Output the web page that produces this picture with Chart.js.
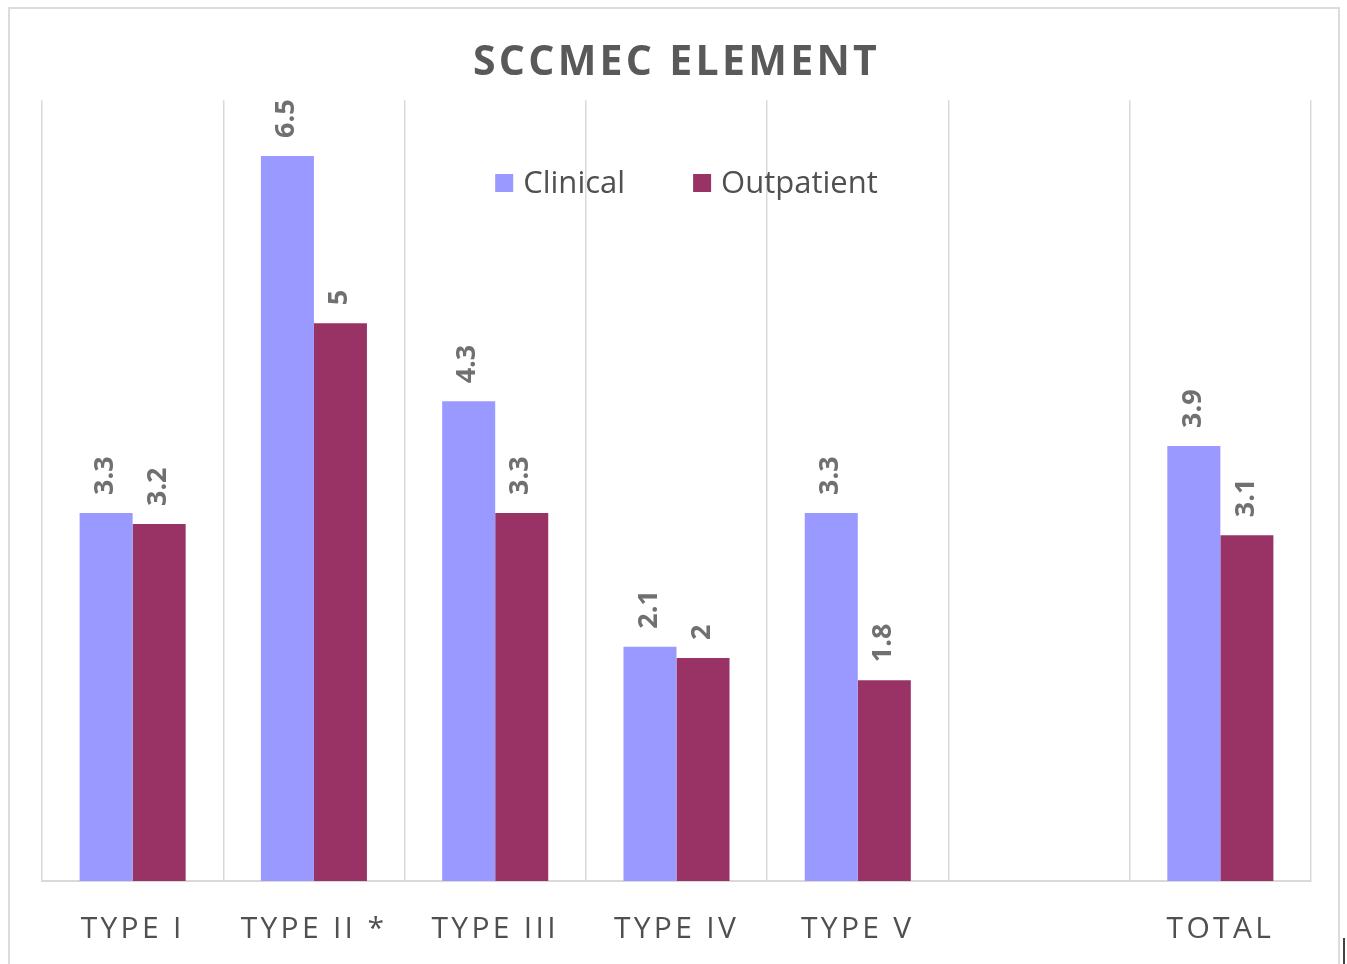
<!DOCTYPE html>
<html>
<head>
<meta charset="utf-8">
<script src="https://cdn.jsdelivr.net/npm/chart.js@4/dist/chart.umd.min.js"></script>
<style>
  html, body { margin: 0; padding: 0; background: #ffffff; overflow: hidden; }
  #frame { position: absolute; left: 8px; top: 7px; width: 1332px; height: 990px; border: 2px solid #dcdcdc; box-sizing: border-box; }
  #mark { position: absolute; left: 1343px; top: 938px; width: 2px; height: 26px; background: #444; }
  #c { position: absolute; left: 0; top: 0; }
</style>
</head>
<body>
<div id="frame"></div>
<div id="mark"></div>
<canvas id="c" width="1347" height="964"></canvas>
<script>
const categories = ['TYPE I', 'TYPE II *', 'TYPE III', 'TYPE IV', 'TYPE V', '', 'TOTAL'];
const clinical = [3.3, 6.5, 4.3, 2.1, 3.3, null, 3.9];
const outpatient = [3.2, 5, 3.3, 2, 1.8, null, 3.1];
const seriesNames = ['Clinical', 'Outpatient'];
const seriesColors = ['#9999FF', '#993366'];

const spacingPlugin = {
  id: 'spacing',
  beforeDraw(chart) { chart.ctx.letterSpacing = '3.3px'; },
  beforeDatasetsDraw(chart) { chart.ctx.letterSpacing = '0px'; }
};

const labelPlugin = {
  id: 'valueLabels',
  afterDatasetsDraw(chart) {
    const ctx = chart.ctx;
    ctx.save();
    ctx.letterSpacing = '0px';
    ctx.font = 'bold 27px "Open Sans", sans-serif';
    ctx.fillStyle = '#707070';
    chart.data.datasets.forEach((ds, di) => {
      const meta = chart.getDatasetMeta(di);
      meta.data.forEach((el, i) => {
        const v = ds.data[i];
        if (v === null || v === undefined) return;
        ctx.save();
        ctx.translate(el.x - 1, el.y - 18);
        ctx.rotate(-Math.PI / 2);
        ctx.textAlign = 'left';
        ctx.textBaseline = 'middle';
        ctx.fillText(String(v), 0, 0);
        ctx.restore();
      });
    });
    ctx.restore();
  }
};

const legendPlugin = {
  id: 'insideLegend',
  afterDraw(chart) {
    const ctx = chart.ctx;
    const area = chart.chartArea;
    ctx.save();
    ctx.letterSpacing = '0px';
    ctx.font = '31px "Open Sans", sans-serif';
    const box = 18, gapBox = 10, gapItem = 68;
    const items = chart.data.datasets.map(d => ({ label: d.label, color: d.backgroundColor }));
    let total = 0;
    items.forEach((it, i) => {
      it.w = ctx.measureText(it.label).width;
      total += box + gapBox + it.w + (i < items.length - 1 ? gapItem : 0);
    });
    let x = (area.left + area.right) / 2 + 10 - total / 2;
    const y = 183;
    items.forEach(it => {
      ctx.fillStyle = it.color;
      ctx.fillRect(x, y - box / 2, box, box);
      x += box + gapBox;
      ctx.fillStyle = '#505050';
      ctx.textAlign = 'left';
      ctx.textBaseline = 'middle';
      ctx.fillText(it.label, x, y + 1);
      x += it.w + gapItem;
    });
    ctx.restore();
  }
};

new Chart(document.getElementById('c'), {
  type: 'bar',
  data: {
    labels: categories,
    datasets: [
      { label: seriesNames[0], data: clinical, backgroundColor: seriesColors[0], categoryPercentage: 0.585, barPercentage: 1.0 },
      { label: seriesNames[1], data: outpatient, backgroundColor: seriesColors[1], categoryPercentage: 0.585, barPercentage: 1.0 }
    ]
  },
  options: {
    responsive: false,
    animation: false,
    layout: { padding: { left: 42, right: 36, top: 0, bottom: -13 } },
    plugins: {
      legend: { display: false },
      tooltip: { enabled: false },
      title: {
        display: true,
        text: 'SCCMEC ELEMENT',
        color: '#595959',
        font: { family: '"Open Sans", sans-serif', size: 41, weight: 'bold', lineHeight: 1.2 },
        padding: { top: 39, bottom: 12 }
      }
    },
    scales: {
      x: {
        grid: { display: true, offset: true, color: '#d9d9d9', lineWidth: 1.5, drawTicks: false },
        border: { display: true, color: '#d9d9d9', width: 2 },
        ticks: {
          color: '#505050',
          font: { family: '"Open Sans", sans-serif', size: 30, lineHeight: 1.2 },
          padding: 30,
          maxRotation: 0,
          autoSkip: false
        }
      },
      y: {
        display: false,
        min: 0,
        max: 7
      }
    }
  },
  plugins: [spacingPlugin, labelPlugin, legendPlugin]
});
</script>
</body>
</html>
